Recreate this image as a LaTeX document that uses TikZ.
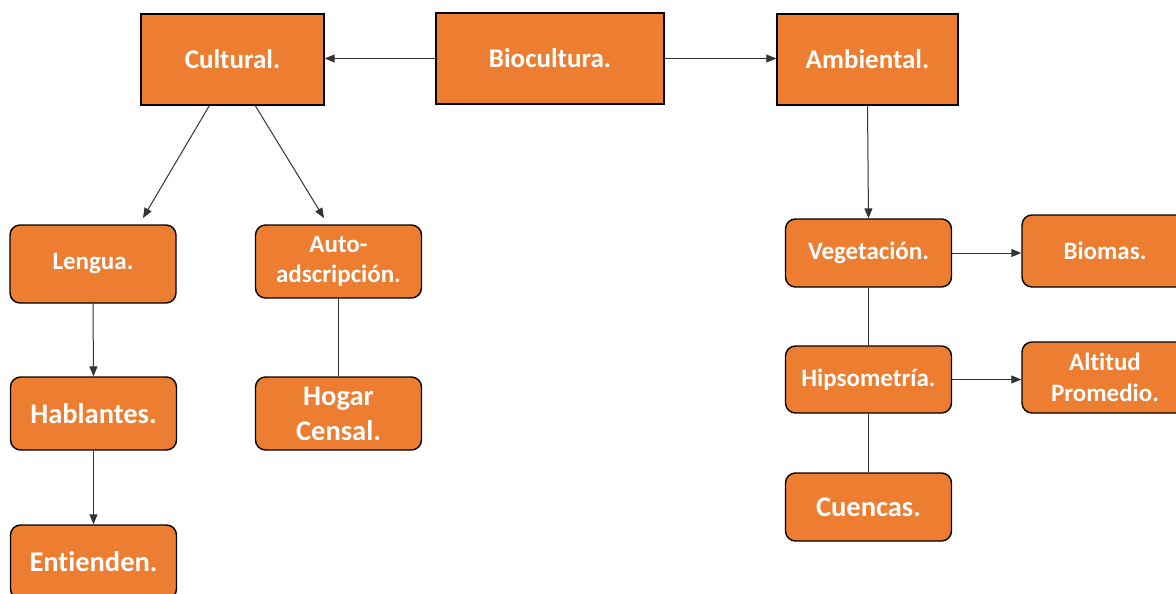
\documentclass[tikz,border=0pt]{standalone}
\usepackage{fontspec}
\setmainfont{Carlito}[Ligatures={NoCommon}]
\usetikzlibrary{arrows.meta,calc}
\definecolor{boxorange}{HTML}{ED7D31}
\newcommand{\brk}{\kern0pt\relax}
\begin{document}
\begin{tikzpicture}[x=1pt,y=-1pt,
  base/.style={draw=black, line width=1.4pt, fill=boxorange, text=white, inner sep=0pt, align=center},
  topbox/.style={base, minimum height=91pt, font=\bfseries\fontsize{27}{33}\selectfont},
  rbox/.style={base, rounded corners=10pt, minimum width=166pt},
  smallf/.style={font=\bfseries\fontsize{25}{30.5}\selectfont},
  bigf/.style={font=\bfseries\fontsize{28.5}{35}\selectfont},
  conn/.style={draw=black!80, line width=1pt},
  arr/.style={conn, -{Triangle[length=10pt,width=8pt]}}
]
\useasboundingbox (0,0) rectangle (1176,594);

% top row
\node[topbox, minimum width=183pt] (cult) at (232.5,59.5) {Cultural.};
\node[topbox, minimum width=228pt] (bio) at (550,58.5) {Biocultura.};
\node[topbox, minimum width=181pt] (amb) at (867.5,59.5) {Ambiental.};

% left branch
\node[rbox, smallf, minimum height=78pt] (leng) at (93,264) {Lengua.};
\node[rbox, smallf, minimum height=73pt] (auto) at (338.5,261.5) {Auto-\\adscripción.};
\node[rbox, bigf, minimum height=73pt] (habl) at (93.5,413.5) {Hablantes.};
\node[rbox, bigf, minimum height=73pt] (hogar) at (338.5,413.5) {Hogar\\Censal.};
\node[rbox, bigf, minimum height=74pt] (ent) at (93.5,562) {Ent\brk ienden.};

% right branch
\node[rbox, smallf, minimum height=68pt] (veg) at (868.5,253) {Vegetación.};
\node[rbox, smallf, minimum height=72pt] (biom) at (1105,251) {Biomas.};
\node[rbox, smallf, minimum height=67pt] (hips) at (868.5,379.5) {Hipsometría.};
\node[rbox, smallf, minimum height=71pt] (alt) at (1105,377.5) {Alt\brk it\brk ud\\Promedio.};
\node[rbox, bigf, minimum height=68pt] (cuen) at (868.5,507) {Cuencas.};

% free ends above the left boxes
\coordinate (tipL) at (143,218);
\coordinate (tipA) at (324,218);
\coordinate (startL) at ($(cult.south west)+(69,0)$);
\coordinate (startA) at ($(cult.south west)+(115,0)$);

% connectors
\draw[arr] (bio.west) -- (bio.west -| cult.east);
\draw[arr] (bio.east) -- (bio.east -| amb.west);
\draw[arr] (startL) -- (tipL);
\draw[arr] (startA) -- (tipA);
\draw[arr] (amb.south) -- (veg.north);
\draw[arr] (leng.south) -- (habl.north);
\draw[arr] (habl.south) -- (ent.north);
\draw[conn] (auto.south) -- (hogar.north);
\draw[conn] (veg.south) -- (hips.north);
\draw[conn] (hips.south) -- (cuen.north);
\draw[arr] (veg.east) -- (veg.east -| biom.west);
\draw[arr] (hips.east) -- (hips.east -| alt.west);
\end{tikzpicture}
\end{document}
